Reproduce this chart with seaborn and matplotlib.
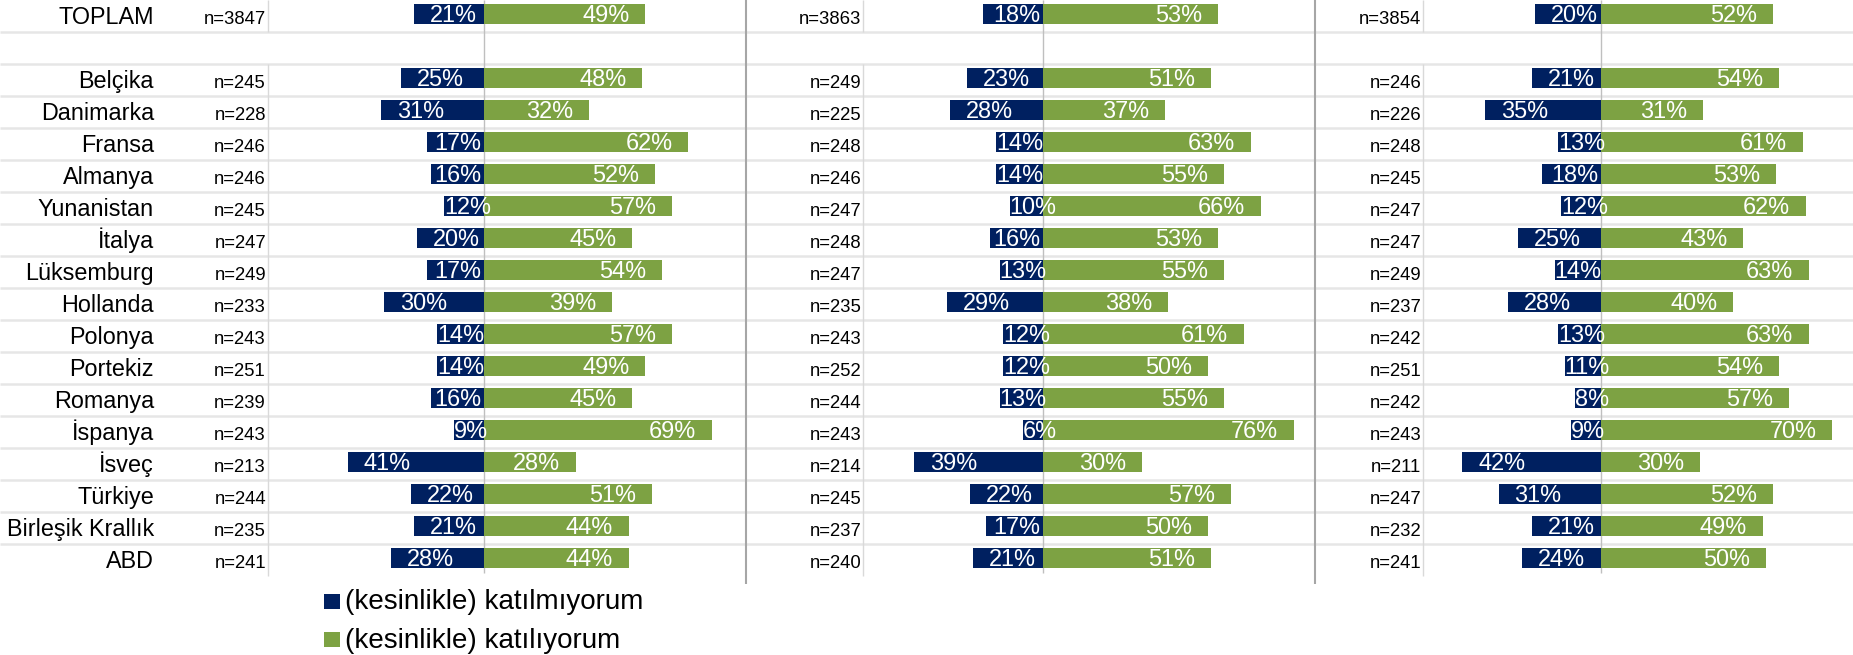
import numpy as np
import pandas as pd
import matplotlib
matplotlib.use("Agg")
import matplotlib.pyplot as plt
from matplotlib.patches import Rectangle
import seaborn as sns

# ---------------- data ----------------
countries = ["TOPLAM", "Belçika", "Danimarka", "Fransa", "Almanya", "Yunanistan",
             "İtalya", "Lüksemburg", "Hollanda", "Polonya", "Portekiz", "Romanya",
             "İspanya", "İsveç", "Türkiye", "Birleşik Krallık", "ABD"]

n1 = [3847, 245, 228, 246, 246, 245, 247, 249, 233, 243, 251, 239, 243, 213, 244, 235, 241]
disagree1 = [21, 25, 31, 17, 16, 12, 20, 17, 30, 14, 14, 16, 9, 41, 22, 21, 28]
agree1 = [49, 48, 32, 62, 52, 57, 45, 54, 39, 57, 49, 45, 69, 28, 51, 44, 44]

n2 = [3863, 249, 225, 248, 246, 247, 248, 247, 235, 243, 252, 244, 243, 214, 245, 237, 240]
disagree2 = [18, 23, 28, 14, 14, 10, 16, 13, 29, 12, 12, 13, 6, 39, 22, 17, 21]
agree2 = [53, 51, 37, 63, 55, 66, 53, 55, 38, 61, 50, 55, 76, 30, 57, 50, 51]

n3 = [3854, 246, 226, 248, 245, 247, 247, 249, 237, 242, 251, 242, 243, 211, 247, 232, 241]
disagree3 = [20, 21, 35, 13, 18, 12, 25, 14, 28, 13, 11, 8, 9, 42, 31, 21, 24]
agree3 = [52, 54, 31, 61, 53, 62, 43, 63, 40, 63, 54, 57, 70, 30, 52, 49, 50]

legend_labels = ["(kesinlikle) katılmıyorum", "(kesinlikle) katılıyorum"]

# ---------------- style ----------------
NAVY = "#002060"
GREEN = "#7DA243"
sns.set_theme(style="white")
plt.rcParams["font.family"] = ["Liberation Sans", "DejaVu Sans"]

W, H = 1853, 655
fig = plt.figure(figsize=(W / 100, H / 100), dpi=100)
fig.patch.set_facecolor("white")

ROW0_PX, PITCH, AX_BOTTOM_PX = 14, 32, 584
Y_TOP = -ROW0_PX / PITCH
Y_BOT = (AX_BOTTOM_PX - ROW0_PX) / PITCH
LABEL_BASE = 0.32   # baseline offset (rows) for row labels
PCT_BASE = 0.24     # baseline offset (rows) for bar labels

def rect(x0, x1):
    return [x0 / W, 1 - AX_BOTTOM_PX / H, (x1 - x0) / W, AX_BOTTOM_PX / H]

row_order = ["TOPLAM", " "] + countries[1:]
pos = {r: i for i, r in enumerate(row_order)}

# background axes (grid lines, column labels)
bg = fig.add_axes(rect(0, W), zorder=0)
bg.set_xlim(0, W)
bg.set_ylim(Y_BOT, Y_TOP)
bg.axis("off")

grid_y = [0.547 + k for k in range(17)]
bg.hlines(grid_y, 0, W, color="#e6e6e6", lw=1.8)
for x in [268, 863, 1423]:
    bg.vlines(x, Y_TOP, 0.547, color="#d9d9d9", lw=1.0)
    bg.vlines(x, 1.547, 17.56, color="#d9d9d9", lw=1.0)
for x in [746, 1315]:
    bg.vlines(x, Y_TOP, Y_BOT, color="#a6a6a6", lw=1.5)

for c in countries:
    bg.text(154, pos[c] + LABEL_BASE, c, ha="right", va="baseline",
            fontsize=16.8, color="black")

panels = [
    dict(n=n1, dis=disagree1, agr=agree1, x0=268, x1=746, zero=483.5, nx=266),
    dict(n=n2, dis=disagree2, agr=agree2, x0=863, x1=1315, zero=1042.6, nx=861.5),
    dict(n=n3, dis=disagree3, agr=agree3, x0=1423, x1=W, zero=1601, nx=1421.5),
]
PXPCT = 3.305

for p in panels:
    for c, nv in zip(countries, p["n"]):
        bg.text(p["nx"], pos[c] + LABEL_BASE, f"n={nv}", ha="right", va="baseline",
                fontsize=13.3, color="black")

    ax = fig.add_axes(rect(p["x0"], p["x1"]), zorder=1)
    ax.patch.set_alpha(0)
    df = pd.DataFrame({"row": countries,
                       "dis": -np.array(p["dis"], dtype=float),
                       "agr": np.array(p["agr"], dtype=float)})
    sns.barplot(data=df, x="dis", y="row", order=row_order, orient="y",
                color=NAVY, saturation=1, width=0.625, errorbar=None,
                linewidth=0, ax=ax)
    sns.barplot(data=df, x="agr", y="row", order=row_order, orient="y",
                color=GREEN, saturation=1, width=0.625, errorbar=None,
                linewidth=0, ax=ax)
    ax.set_xlim(-(p["zero"] - p["x0"]) / PXPCT, (p["x1"] - p["zero"]) / PXPCT)
    ax.set_ylim(Y_BOT, Y_TOP)
    ax.vlines(0, Y_TOP, 17.47, color="#bfbfbf", lw=1.0, zorder=0.5)
    ax.set_xlabel("")
    ax.set_ylabel("")
    ax.set_xticks([])
    ax.set_yticks([])
    for s in ax.spines.values():
        s.set_visible(False)

    for c, d, a in zip(countries, p["dis"], p["agr"]):
        y = pos[c] + PCT_BASE
        pad = min(max(d - 15, 0), 4.8)
        ax.text(-d + pad, y, f"{d}%", ha="left", va="baseline", color="white",
                fontsize=16.9, zorder=5)
        ax.text(a - 4.8, y, f"{a}%", ha="right", va="baseline", color="white",
                fontsize=16.9, zorder=5)

# legend (pixel overlay)
ov = fig.add_axes([0, 0, 1, 1], zorder=2)
ov.set_xlim(0, W)
ov.set_ylim(H, 0)
ov.axis("off")
ov.patch.set_alpha(0)
for (yc, col, lab) in [(601, NAVY, legend_labels[0]), (639.5, GREEN, legend_labels[1])]:
    ov.add_patch(Rectangle((324, yc - 7.5), 16, 15, color=col, lw=0))
    ov.text(345, yc + 1, lab, ha="left", va="center", fontsize=20, color="black")

fig.savefig("out.png", dpi=100, facecolor="white")
